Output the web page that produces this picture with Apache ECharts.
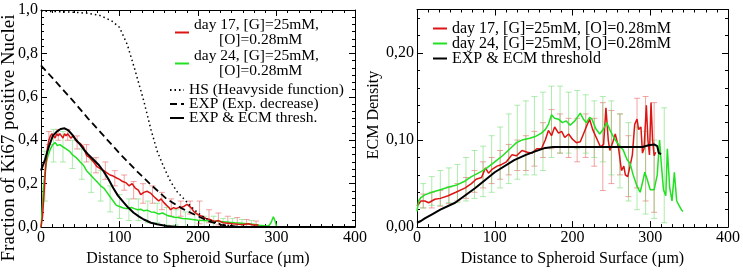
<!DOCTYPE html>
<html>
<head>
<meta charset="utf-8">
<script src="https://cdn.jsdelivr.net/npm/echarts@6/dist/echarts.min.js"></script>
<style>
  html, body { margin: 0; padding: 0; background: #fff; }
  #chart { width: 743px; height: 272px; }
</style>
</head>
<body>
<div id="chart"></div>
<script>
// --- DATA: left panel (Ki67 fraction) ---
const leftDay17 = [[0,0],[2,0.05],[4,0.16],[6,0.28],[8,0.36],[10,0.40],[12,0.42],[14,0.43],[16,0.42],[18,0.41],[20,0.43],[22,0.42],[24,0.43],[26,0.42],[28,0.41],[30,0.43],[32,0.42],[34,0.43],[36,0.42],[38,0.41],[41,0.42],[44,0.40],[47,0.39],[50,0.385],[54,0.37],[58,0.33],[62,0.32],[67,0.30],[71,0.28],[75,0.27],[80,0.26],[84,0.25],[88,0.24],[92,0.235],[97,0.225],[100,0.22],[104,0.21],[108,0.205],[112,0.19],[116,0.20],[120,0.18],[124,0.17],[127,0.15],[131,0.16],[135,0.165],[140,0.155],[144,0.14],[147,0.13],[150,0.12],[153,0.13],[156,0.115],[160,0.10],[163,0.09],[165,0.08],[169,0.09],[172,0.085],[175,0.09],[178,0.09],[182,0.095],[186,0.105],[188,0.11],[191,0.09],[195,0.07],[200,0.057],[205,0.05],[210,0.04],[215,0.035],[221,0.026],[226,0.03],[232,0.02],[238,0.018],[244,0.015],[251,0.013],[258,0.012],[264,0.015],[270,0.01],[277,0.01]];
const leftDay24 = [[0,0],[1,0.05],[2,0.11],[3,0.18],[5,0.25],[7,0.30],[9,0.33],[12,0.36],[15,0.38],[18,0.39],[21,0.375],[24,0.38],[28,0.37],[32,0.36],[36,0.35],[41,0.33],[45,0.32],[50,0.30],[54,0.285],[58,0.26],[62,0.245],[67,0.225],[71,0.21],[76,0.19],[80,0.18],[84,0.16],[88,0.14],[92,0.12],[96,0.10],[100,0.095],[105,0.088],[110,0.085],[115,0.09],[119,0.085],[123,0.08],[127,0.082],[131,0.075],[135,0.078],[140,0.07],[145,0.068],[150,0.06],[155,0.065],[160,0.055],[165,0.05],[170,0.045],[175,0.044],[180,0.04],[186,0.038],[193,0.035],[200,0.032],[208,0.03],[216,0.028],[224,0.027],[232,0.025],[240,0.022],[247,0.02],[255,0.018],[262,0.015],[270,0.013],[278,0.008],[285,0.006],[290,0.005],[293,0.02],[296,0.048],[298,0.03],[300,0.005]];
const leftHS = [[0,0.995],[40,0.99],[60,0.985],[75,0.975],[90,0.95],[100,0.92],[110,0.84],[120,0.72],[131,0.58],[140,0.45],[148,0.35],[156,0.28],[165,0.21],[174,0.16],[182,0.13],[191,0.095],[200,0.065],[210,0.04],[220,0.025],[230,0.012],[245,0.004],[260,0],[400,0]];
const leftEXP = [[0,0.745],[20,0.665],[40,0.585],[60,0.50],[80,0.42],[100,0.34],[120,0.265],[140,0.195],[160,0.13],[180,0.085],[200,0.05],[215,0.025],[230,0.01],[250,0.002],[270,0],[400,0]];
const leftECM = [[0,0.26],[5,0.31],[10,0.37],[15,0.42],[20,0.44],[25,0.452],[30,0.455],[35,0.445],[40,0.425],[45,0.40],[50,0.38],[55,0.355],[60,0.335],[67,0.31],[74,0.285],[80,0.255],[86,0.22],[92,0.18],[98,0.145],[105,0.115],[111,0.09],[118,0.066],[125,0.048],[131,0.035],[140,0.02],[148,0.013],[160,0.005],[175,0.001],[200,0],[400,0]];
// error bars: [x, low, high]
const leftErr17 = [[10,0.38,0.44],[22,0.40,0.45],[34,0.40,0.45],[46,0.36,0.42],[58,0.30,0.38],[70,0.25,0.32],[82,0.22,0.30],[94,0.19,0.26],[106,0.17,0.24],[118,0.13,0.21],[130,0.11,0.20],[142,0.11,0.19],[154,0.08,0.16],[166,0.05,0.13],[178,0.05,0.12],[190,0.06,0.12],[202,0.015,0.12],[214,0.02,0.08],[226,0.01,0.065],[238,0.005,0.05],[250,0.0,0.044],[262,0,0.035],[274,0,0.028]];
const leftErr24 = [[5,0.12,0.35],[16,0.30,0.45],[28,0.30,0.44],[40,0.27,0.40],[52,0.22,0.36],[64,0.16,0.31],[76,0.12,0.26],[88,0.07,0.19],[100,0.04,0.15],[112,0.03,0.13],[124,0.03,0.13],[136,0.02,0.12],[148,0.02,0.11],[160,0.01,0.09],[172,0.01,0.08],[184,0.0,0.07],[196,0.0,0.06],[208,0,0.05],[220,0,0.05],[232,0,0.04],[244,0,0.04],[256,0,0.035],[268,0,0.03]];

// --- DATA: right panel (ECM density) ---
const rightDay17 = [[0,0.024],[2,0.025],[5,0.03],[10,0.03],[15,0.028],[23,0.032],[30,0.033],[40,0.036],[50,0.04],[62,0.045],[70,0.05],[76,0.055],[83,0.057],[88,0.068],[92,0.062],[96,0.066],[103,0.07],[109,0.072],[115,0.075],[122,0.083],[128,0.082],[135,0.088],[142,0.086],[148,0.085],[154,0.09],[160,0.09],[165,0.1],[169,0.111],[173,0.105],[177,0.115],[182,0.108],[186,0.11],[190,0.103],[195,0.107],[200,0.101],[205,0.097],[210,0.098],[215,0.109],[219,0.118],[222,0.124],[226,0.112],[232,0.10],[236,0.092],[240,0.095],[243,0.137],[246,0.10],[248,0.088],[252,0.098],[255,0.107],[259,0.092],[263,0.065],[266,0.07],[268,0.06],[271,0.058],[274,0.07],[277,0.083],[280,0.118],[283,0.124],[285,0.112],[288,0.115],[290,0.085],[292,0.09],[295,0.14],[297,0.1],[299,0.083],[301,0.143],[303,0.1],[305,0.082],[307,0.086]];
const rightDay24 = [[0,0.018],[2,0.03],[5,0.034],[10,0.037],[19,0.040],[30,0.043],[41,0.046],[50,0.048],[62,0.053],[70,0.058],[83,0.064],[90,0.068],[100,0.075],[110,0.082],[122,0.092],[128,0.097],[135,0.10],[145,0.102],[152,0.104],[160,0.108],[165,0.112],[169,0.118],[173,0.129],[177,0.125],[182,0.124],[187,0.12],[192,0.122],[197,0.117],[203,0.122],[210,0.131],[214,0.124],[218,0.12],[222,0.126],[225,0.124],[230,0.113],[235,0.107],[240,0.113],[244,0.12],[249,0.11],[255,0.10],[260,0.094],[265,0.089],[270,0.078],[274,0.073],[278,0.06],[283,0.047],[287,0.040],[291,0.055],[293,0.063],[296,0.055],[300,0.043],[305,0.043],[309,0.06],[312,0.1],[314,0.075],[317,0.043],[320,0.036],[322,0.09],[325,0.045],[328,0.03],[331,0.063],[334,0.03],[337,0.025],[340,0.02],[342,0.018]];
const rightECM = [[0,0.005],[5,0.007],[10,0.010],[20,0.015],[30,0.020],[49,0.028],[75,0.045],[100,0.063],[125,0.077],[140,0.083],[152,0.087],[165,0.091],[175,0.092],[200,0.092],[250,0.092],[290,0.092],[298,0.094],[305,0.095],[309,0.093],[311,0.085],[314,0.084]];
const rightErr17 = [[8,0.022,0.038],[19,0.022,0.04],[30,0.024,0.042],[41,0.027,0.046],[52,0.03,0.05],[63,0.033,0.057],[74,0.04,0.065],[85,0.045,0.075],[96,0.05,0.08],[107,0.055,0.088],[118,0.06,0.095],[129,0.065,0.1],[140,0.065,0.105],[151,0.07,0.11],[162,0.08,0.12],[173,0.09,0.135],[184,0.085,0.13],[195,0.08,0.125],[206,0.075,0.125],[217,0.08,0.13],[228,0.07,0.125],[239,0.042,0.143],[250,0.05,0.134],[261,0.06,0.13],[272,0.035,0.105],[283,0.045,0.148],[294,0.03,0.15],[305,0.017,0.143]];
const rightErr24 = [[8,0.022,0.05],[19,0.025,0.058],[30,0.025,0.065],[41,0.028,0.068],[52,0.028,0.072],[63,0.03,0.08],[74,0.033,0.088],[85,0.035,0.093],[96,0.04,0.105],[107,0.045,0.115],[118,0.05,0.13],[129,0.055,0.14],[140,0.06,0.145],[151,0.06,0.15],[162,0.065,0.155],[173,0.08,0.162],[184,0.085,0.162],[195,0.085,0.155],[206,0.09,0.157],[217,0.085,0.152],[228,0.08,0.145],[239,0.075,0.15],[250,0.06,0.145],[261,0.045,0.13],[272,0.03,0.12],[283,0.02,0.115],[294,0.015,0.11],[305,0.01,0.1],[318,0.005,0.137]];

const xTicks = { min: 0, max: 400, interval: 100 };
const NAME17 = 'day 17, [G]=25mM, [O]=0.28mM';
const NAME24 = 'day 24, [G]=25mM, [O]=0.28mM';

const RED = '#dc1414';
const GREEN = '#22e022';
const FONT = 'Liberation Serif';
const txt = { fontFamily: FONT, fontSize: 16, color: '#000' };
const legTxt = { ...txt, fontSize: 15.5 };

const chart = echarts.init(document.getElementById('chart'));

function errorBars(params, api) {
    const lo = api.coord([api.value(0), api.value(1)]);
    const hi = api.coord([api.value(0), api.value(2)]);
    const style = { stroke: api.visual('color'), lineWidth: 1 };
    return {
        type: 'group',
        children: [
            { type: 'line', shape: { x1: lo[0], y1: lo[1], x2: hi[0], y2: hi[1] }, style },
            { type: 'line', shape: { x1: lo[0] - 3, y1: lo[1], x2: lo[0] + 3, y2: lo[1] }, style },
            { type: 'line', shape: { x1: hi[0] - 3, y1: hi[1], x2: hi[0] + 3, y2: hi[1] }, style }
        ]
    };
}

const comma = d => v => v.toFixed(d).replace('.', ',');
const black = { color: '#000', width: 1 };

function xAx(grid, pos, name, gap) {
    return {
        gridIndex: grid, type: 'value', position: pos, ...xTicks,
        axisLine: { show: true, onZero: false, lineStyle: black },
        axisTick: { inside: true, length: 6, lineStyle: black },
        minorTick: { show: true, splitNumber: 7, length: 3, lineStyle: black },
        splitLine: { show: false },
        axisLabel: { show: pos === 'bottom', margin: 3, ...txt },
        name: pos === 'bottom' ? name : '', nameLocation: 'middle', nameGap: gap,
        nameTextStyle: txt
    };
}

function yAx(grid, pos, max, interval, minor, digits) {
    return {
        gridIndex: grid, type: 'value', position: pos, min: 0, max, interval,
        axisLine: { show: true, onZero: false, lineStyle: black },
        axisTick: { inside: true, length: 6, lineStyle: black },
        minorTick: { show: true, splitNumber: minor, length: 3, lineStyle: black },
        splitLine: { show: false },
        axisLabel: { show: pos === 'left', margin: 3, showMaxLabel: max === 1, formatter: comma(digits), ...txt }
    };
}

function line(name, data, x, y, color, type, width, z) {
    return {
        name, type: 'line', data, xAxisIndex: x, yAxisIndex: y, showSymbol: false, symbol: 'none',
        lineStyle: { color, type, width }, itemStyle: { color }, z, silent: true
    };
}

function bars(data, x, y, color) {
    return {
        type: 'custom', data, xAxisIndex: x, yAxisIndex: y, renderItem: errorBars,
        itemStyle: { color }, encode: { x: 0, y: [1, 2] }, z: 1, silent: true
    };
}

const twoLine = n => {
    const i = n.indexOf(' [O]');
    return '{a|' + n.slice(0, i) + '}\n{b|' + n.slice(i + 1) + '}';
};

const legendBase = {
    orient: 'vertical', itemWidth: 14, itemHeight: 10, itemGap: -2, selectedMode: false,
    itemStyle: { opacity: 0 }
};

// rotated axis titles
function yTitle(text, x, y, size) {
    return {
        type: 'text', x, y, rotation: Math.PI / 2,
        style: { text, fontFamily: FONT, fontSize: size, fill: '#000', align: 'center', verticalAlign: 'middle' }
    };
}

chart.setOption({
    animation: false,
    backgroundColor: '#fff',
    grid: [
        { left: 41, top: 10, width: 314, height: 228 },
        { left: 417, top: 9.5, width: 311, height: 222.5 }
    ],
    xAxis: [
        xAx(0, 'bottom', 'Distance to Spheroid Surface (\u00b5m)', 17),
        xAx(0, 'top'),
        xAx(1, 'bottom', 'Distance to Spheroid Surface (\u00b5m)', 21),
        xAx(1, 'top')
    ],
    yAxis: [
        yAx(0, 'left', 1, 0.2, 6, 1),
        yAx(0, 'right', 1, 0.2, 6, 1),
        yAx(1, 'left', 0.25, 0.1, 5, 2),
        yAx(1, 'right', 0.25, 0.1, 5, 2)
    ],
    graphic: [
        yTitle('Fraction of Ki67 positive Nuclei', 9, 138, 19),
        yTitle('ECM Density', 374, 115, 16)
    ],
    legend: [
        {
            ...legendBase, data: [NAME17, NAME24], left: 169, top: 12, itemGap: 0,
            formatter: twoLine,
            textStyle: { ...legTxt, lineHeight: 15, rich: { a: { ...legTxt, lineHeight: 15 }, b: { ...legTxt, lineHeight: 15, padding: [0, 0, 0, 25] } } }
        },
        {
            ...legendBase, data: ['HS (Heavyside function)', 'EXP (Exp. decrease)', 'EXP & ECM thresh.'],
            left: 164, top: 77, textStyle: { ...legTxt, lineHeight: 14.5 }
        },
        {
            ...legendBase, data: [NAME17, NAME24, 'EXP & ECM threshold'], left: 427, top: 15,
            textStyle: { ...txt, lineHeight: 17 }
        }
    ],
    series: [
        bars(leftErr17, 0, 0, 'rgba(230,90,90,0.55)'),
        bars(leftErr24, 0, 0, 'rgba(110,220,110,0.55)'),
        line(NAME24, leftDay24, 0, 0, GREEN, 'solid', 1.5, 3),
        line(NAME17, leftDay17, 0, 0, RED, 'solid', 1.5, 4),
        line('HS (Heavyside function)', leftHS, 0, 0, '#000', [1.5, 3], 1.5, 5),
        line('EXP (Exp. decrease)', leftEXP, 0, 0, '#000', [7, 4], 1.8, 5),
        line('EXP & ECM thresh.', leftECM, 0, 0, '#000', 'solid', 2, 5),

        bars(rightErr17, 2, 2, 'rgba(230,90,90,0.55)'),
        bars(rightErr24, 2, 2, 'rgba(110,220,110,0.55)'),
        line(NAME17, rightDay17, 2, 2, RED, 'solid', 1.5, 3),
        line(NAME24, rightDay24, 2, 2, GREEN, 'solid', 1.5, 4),
        line('EXP & ECM threshold', rightECM, 2, 2, '#000', 'solid', 2, 5)
    ]
});
</script>
</body>
</html>
